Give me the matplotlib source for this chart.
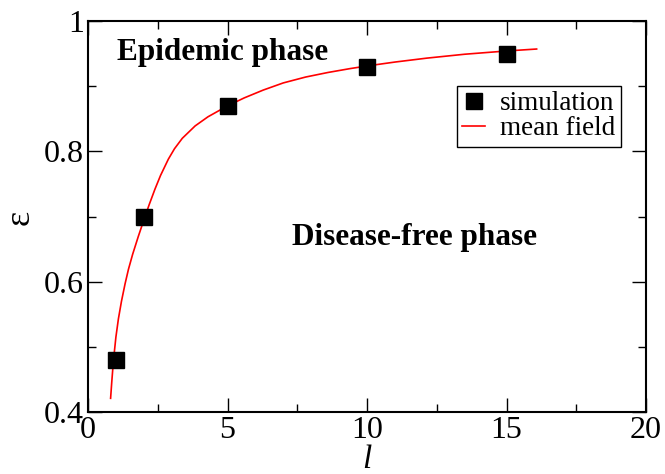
import matplotlib
matplotlib.use("Agg")
import matplotlib.pyplot as plt
from matplotlib.ticker import MultipleLocator

plt.rcParams['font.family'] = ['Liberation Serif', 'DejaVu Serif']

# simulation points
l_sim = [1, 2, 5, 10, 15]
eps_sim = [0.48, 0.70, 0.87, 0.93, 0.95]

# mean-field curve
l_mf = [0.81, 0.85, 0.91, 1.00, 1.09, 1.20, 1.33, 1.45, 1.60, 1.80, 2.02,
        2.20, 2.40, 2.60, 2.88, 3.10, 3.38, 3.84, 4.30, 5.01, 5.60, 6.28,
        7.00, 7.80, 8.60, 9.40, 10.00, 11.00, 12.14, 13.50, 15.00, 16.08]
eps_mf = [0.421, 0.445, 0.478, 0.515, 0.543, 0.570, 0.597, 0.619, 0.642, 0.669, 0.697,
          0.719, 0.742, 0.763, 0.788, 0.804, 0.820, 0.839, 0.853, 0.870, 0.882, 0.894,
          0.905, 0.914, 0.921, 0.927, 0.931, 0.937, 0.943, 0.949, 0.954, 0.957]

xticks = [0, 5, 10, 15, 20]
yticks = [0.4, 0.6, 0.8, 1.0]
ytick_labels = ['0.4', '0.6', '0.8', '1']

fig = plt.figure(figsize=(6.65, 4.74), dpi=100)
ax = fig.add_axes([88/665, 1-412/474, 558/665, 391/474])

ax.plot(l_mf, eps_mf, color='#ff0000', lw=1.2, label='mean field', zorder=2,
        solid_joinstyle='round')
ax.plot(l_sim, eps_sim, 's', color='black', ms=11, label='simulation', zorder=3)

ax.set_xlim(0, 20)
ax.set_ylim(0.4, 1.0)
ax.set_xticks(xticks)
ax.set_xticklabels([str(t) for t in xticks])
ax.set_yticks(yticks)
ax.set_yticklabels(ytick_labels)
ax.xaxis.set_minor_locator(MultipleLocator(2.5))
ax.yaxis.set_minor_locator(MultipleLocator(0.1))
ax.tick_params(which='both', direction='in', top=True, right=True, width=1.0,
               labelsize=23)
ax.tick_params(which='major', length=10, pad=3)
ax.tick_params(which='minor', length=5.5)
for s in ax.spines.values():
    s.set_linewidth(1.5)

ax.set_xlabel('l', fontsize=24, style='italic')
ax.xaxis.set_label_coords(0.5, -0.084)
ax.xaxis.label.set_va('top')
fig.text(20/665, 1-217/474, 'ε', fontsize=26, rotation=90, ha='center', va='center')

ax.text(1.03, 0.940, 'Epidemic phase', fontsize=22.5, fontweight='bold')
ax.text(7.30, 0.657, 'Disease-free phase', fontsize=22.5, fontweight='bold')

handles, labels = ax.get_legend_handles_labels()
leg = ax.legend(handles[::-1], labels[::-1], loc='upper left',
                bbox_to_anchor=((456.7-88)/558, (412-86)/391), borderaxespad=0,
                fontsize=19.5, numpoints=1, handlelength=0.85, handletextpad=0.55,
                labelspacing=0.0, borderpad=0.2, fancybox=False, framealpha=1,
                edgecolor='black')
leg.get_frame().set_linewidth(1.0)

fig.savefig('out.png', dpi=100)
